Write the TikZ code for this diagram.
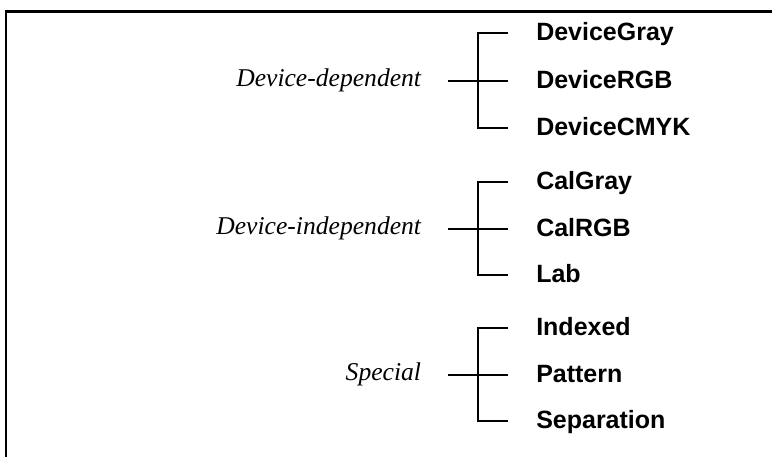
\documentclass[tikz,border=0pt]{standalone}
\usepackage{fontspec}
\setmainfont{Liberation Serif}
\setsansfont{Liberation Sans}
\usepackage{tikz}

\tikzset{
	group/.style={anchor=east,inner xsep=20pt,inner ysep=0pt,text height=8.6pt,text depth=0pt,font=\fontsize{19.2}{22}\selectfont\itshape},
	space/.style={anchor=west,inner xsep=21pt,inner ysep=0pt,text height=13.4pt,text depth=2.2pt,font=\fontsize{18.75}{22}\selectfont\sffamily\bfseries},
	bracket/.style={draw=black,line width=1.5pt},
}

\begin{document}
\begin{tikzpicture}[x=0.75pt,y=-0.75pt]
\useasboundingbox (0,0) rectangle (772,457);

\draw[line width=1.9pt] (6,460) -- (6,11.5) -- (776,11.5);

\begin{scope}
	\node[group] (dd) at (448,81) {Device-dependent};
	\node[group] (di) at (448,229) {Device-independent};
	\node[group] (sp) at (448,375) {Special};
	
	\node[space] (gray) at (508,33) {DeviceGray};
	\node[space] (rgb) at (508,81) {DeviceRGB};
	\node[space] (cmyk) at (508,128) {DeviceCMYK};
	
	\node[space] (calgray) at (508,182) {CalGray};
	\node[space] (calrgb) at (508,229) {CalRGB};
	\node[space] (lab) at (508,275) {Lab};
	
	\node[space] (indexed) at (508,328) {Indexed};
	\node[space] (pattern) at (508,375) {Pattern};
	\node[space] (separation) at (508,421) {Separation};
	
	\coordinate (ddj) at (478,81);
	\coordinate (dij) at (478,229);
	\coordinate (spj) at (478,375);
\end{scope}

\begin{scope}[every edge/.style={draw=black,line width=1.5pt}]

	\path (dd) edge (rgb);
	\path (di) edge (calrgb);
	\path (sp) edge (pattern);
	
	\draw[bracket] (gray.west) -| (ddj) |- (cmyk.west);
	\draw[bracket] (calgray.west) -| (dij) |- (lab.west);
	\draw[bracket] (indexed.west) -| (spj) |- (separation.west);

\end{scope}

\end{tikzpicture}
\end{document}
